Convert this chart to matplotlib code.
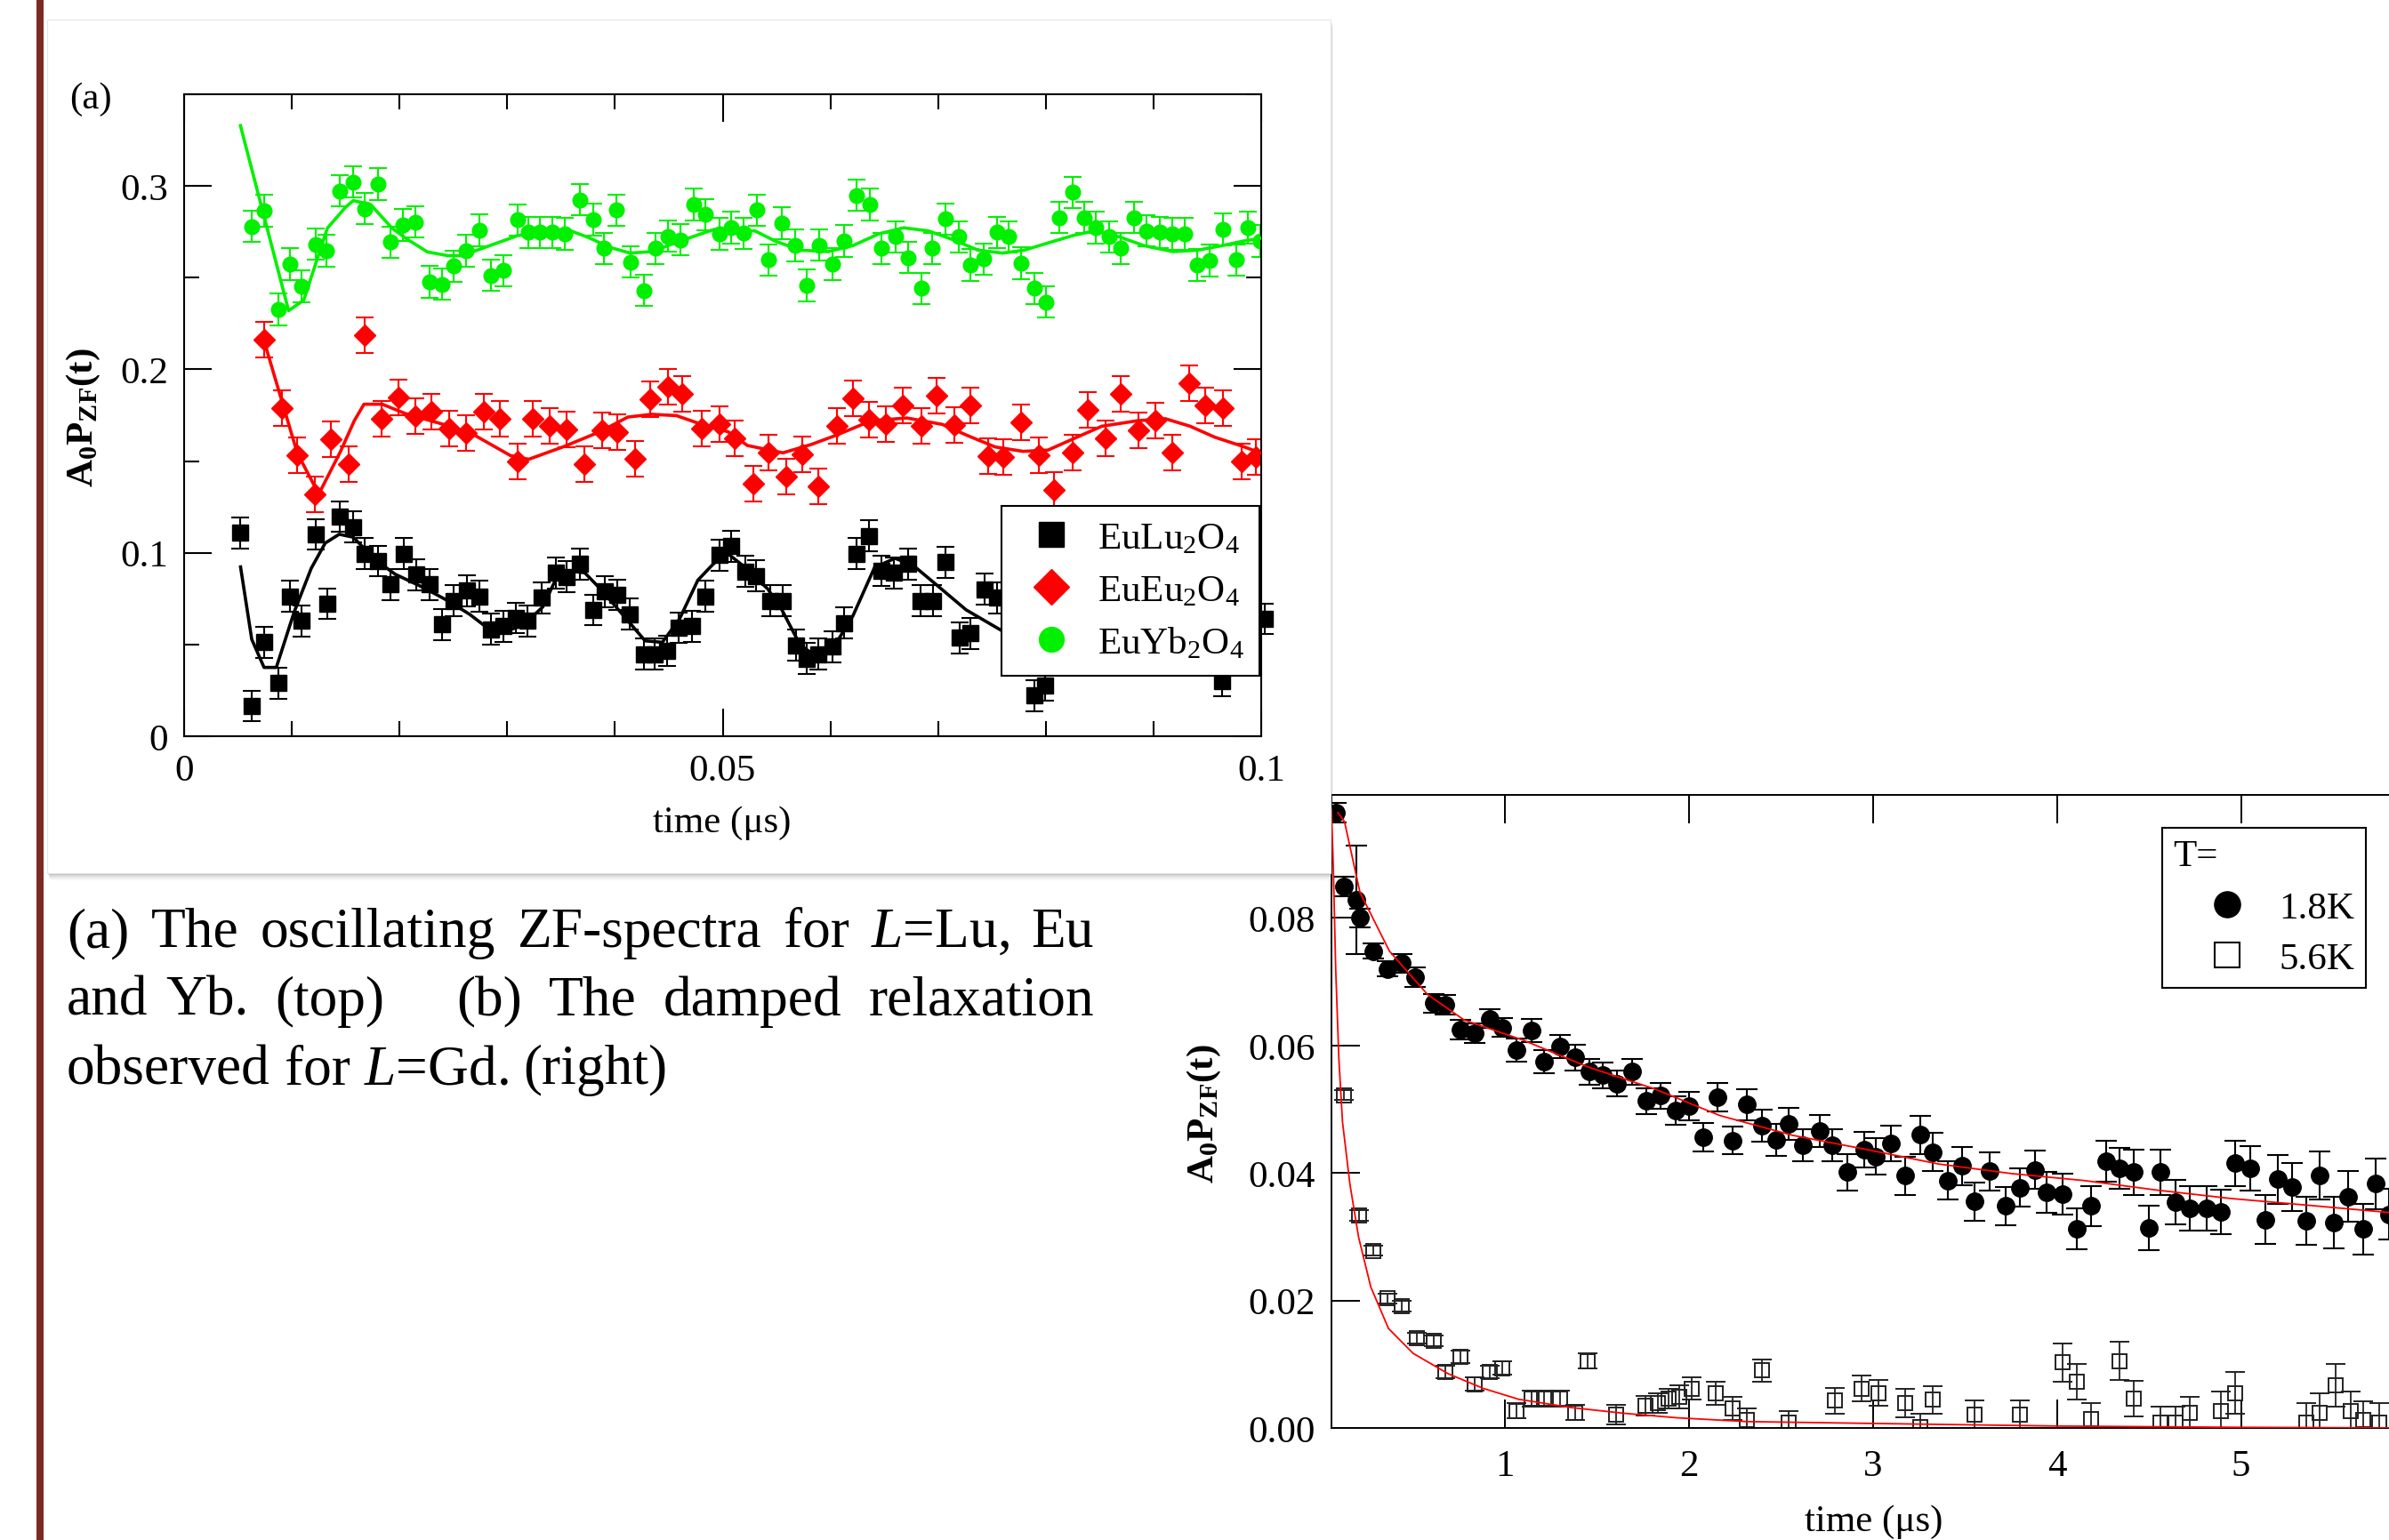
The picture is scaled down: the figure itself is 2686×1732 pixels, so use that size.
import matplotlib
matplotlib.use("Agg")
import matplotlib.pyplot as plt
from matplotlib.lines import Line2D
from matplotlib.patches import Rectangle
from matplotlib.ticker import FixedLocator, MultipleLocator, FuncFormatter

# ---------------- data: panel (a) ----------------
lu_t = [0.00524, 0.00628, 0.00742, 0.00873, 0.0098, 0.01092, 0.01222, 0.0133, 0.01444, 0.01568,
        0.01673, 0.01797, 0.01917, 0.02041, 0.02156, 0.02277, 0.02398, 0.02505, 0.02626, 0.02744,
        0.02848, 0.02963, 0.03077, 0.03191, 0.03322, 0.03453, 0.0355, 0.03671, 0.03795, 0.03909,
        0.04024, 0.04138, 0.04268, 0.04367, 0.04487, 0.04595, 0.04719, 0.0484, 0.0497, 0.05078,
        0.0521, 0.05308, 0.0544, 0.05555, 0.0568, 0.05779, 0.05884, 0.06016, 0.06131, 0.06246,
        0.06362, 0.0647, 0.06592, 0.06723, 0.06839, 0.06954, 0.07069, 0.07201, 0.073, 0.07431,
        0.07546, 0.07892, 0.0799, 0.09635, 0.1003]
lu_y = [0.1109, 0.0165, 0.0512, 0.0289, 0.0762, 0.0628, 0.1101, 0.0722, 0.1198, 0.1141,
        0.0996, 0.0955, 0.0827, 0.0996, 0.088, 0.0827, 0.0609, 0.0738, 0.0794, 0.0762,
        0.0584, 0.06, 0.0644, 0.0628, 0.0754, 0.0891, 0.087, 0.0939, 0.0689, 0.0789,
        0.077, 0.0665, 0.0447, 0.0447, 0.0466, 0.0592, 0.06, 0.0762, 0.0988, 0.1036,
        0.0899, 0.0875, 0.0738, 0.0738, 0.0496, 0.0423, 0.0447, 0.0488, 0.0617, 0.0996,
        0.1093, 0.0902, 0.0891, 0.0939, 0.0738, 0.0738, 0.0948, 0.0536, 0.056, 0.0802,
        0.0754, 0.0221, 0.0278, 0.0302, 0.064]
lu_err = 0.0084

eu_t = [0.00742, 0.00912, 0.01052, 0.01216, 0.01362, 0.01526, 0.01673, 0.01836, 0.01993, 0.02146,
        0.02293, 0.02457, 0.0262, 0.02783, 0.0293, 0.03093, 0.0324, 0.03397, 0.0355, 0.03714,
        0.03877, 0.04024, 0.04187, 0.04327, 0.0449, 0.04627, 0.04807, 0.0497, 0.05111, 0.05285,
        0.05424, 0.05588, 0.05736, 0.05891, 0.06059, 0.06207, 0.06362, 0.06516, 0.06674, 0.06846,
        0.06987, 0.07151, 0.073, 0.07464, 0.07606, 0.07771, 0.07935, 0.08073, 0.08247, 0.08386,
        0.08557, 0.08698, 0.08863, 0.09021, 0.09175, 0.09333, 0.09481, 0.09642, 0.09817, 0.09949]
eu_y = [0.2161, 0.1787, 0.1532, 0.1319, 0.1621, 0.1485, 0.2187, 0.173, 0.1847, 0.1747,
        0.1771, 0.1677, 0.1655, 0.1771, 0.173, 0.1496, 0.173, 0.1693, 0.1671, 0.1485,
        0.1669, 0.1659, 0.1512, 0.1839, 0.1903, 0.1868, 0.1677, 0.1703, 0.1622, 0.1375,
        0.1548, 0.1416, 0.1537, 0.1364, 0.1693, 0.1843, 0.1726, 0.1703, 0.1803, 0.1693,
        0.1855, 0.1698, 0.1803, 0.1529, 0.1521, 0.1709, 0.1532, 0.1343, 0.1548, 0.1779,
        0.1622, 0.1868, 0.1666, 0.1723, 0.1548, 0.1924, 0.1803, 0.1787, 0.1496, 0.1521]
eu_err = 0.0097

yb_t = [0.00628, 0.00742, 0.00873, 0.0098, 0.01092, 0.01222, 0.0132, 0.01444, 0.01568, 0.01673,
        0.01797, 0.01917, 0.02032, 0.02146, 0.02277, 0.02391, 0.02499, 0.0262, 0.02744, 0.02848,
        0.02963, 0.03093, 0.03197, 0.03305, 0.0342, 0.03534, 0.03671, 0.03795, 0.039, 0.04017,
        0.04145, 0.04268, 0.04373, 0.0449, 0.04611, 0.04729, 0.0484, 0.0497, 0.05078, 0.05193,
        0.05318, 0.05424, 0.05549, 0.0567, 0.05779, 0.059, 0.06016, 0.06131, 0.06246, 0.06368,
        0.06477, 0.06602, 0.06723, 0.06845, 0.06944, 0.07069, 0.07194, 0.073, 0.07424, 0.07546,
        0.07655, 0.0777, 0.07892, 0.08001, 0.08122, 0.08247, 0.08353, 0.08468, 0.0859, 0.08698,
        0.0882, 0.08938, 0.0906, 0.09175, 0.0929, 0.09405, 0.09521, 0.09642, 0.09768, 0.09873,
        0.09992]
yb_y = [0.278, 0.2865, 0.2328, 0.2573, 0.2452, 0.2683, 0.2646, 0.2973, 0.3022, 0.2877,
        0.301, 0.2694, 0.2788, 0.2804, 0.2476, 0.2465, 0.2562, 0.2646, 0.2759, 0.2513,
        0.2538, 0.2815, 0.2747, 0.2747, 0.2747, 0.2739, 0.2925, 0.2816, 0.2659, 0.2868,
        0.2586, 0.243, 0.2659, 0.2726, 0.2707, 0.29, 0.2844, 0.2739, 0.2772, 0.2742,
        0.2868, 0.2597, 0.2796, 0.2675, 0.2457, 0.2678, 0.2573, 0.2699, 0.2949, 0.29,
        0.2659, 0.2723, 0.261, 0.2441, 0.2659, 0.282, 0.2723, 0.257, 0.2602, 0.2747,
        0.2723, 0.2578, 0.2441, 0.2368, 0.2828, 0.2965, 0.2828, 0.2772, 0.2723, 0.2659,
        0.2828, 0.2755, 0.2747, 0.2739, 0.2739, 0.257, 0.2594, 0.2764, 0.2597, 0.2772,
        0.2699]
yb_err = 0.0086

lu_fit_t = [0.00524, 0.00628, 0.00742, 0.00856, 0.0102, 0.0118, 0.0131, 0.0144, 0.0157, 0.0177,
            0.0196, 0.0222, 0.0245, 0.0265, 0.0281, 0.0294, 0.0314, 0.0333, 0.0346, 0.0359,
            0.0372, 0.0388, 0.0408, 0.0428, 0.0444, 0.046, 0.0477, 0.049, 0.0503, 0.0522,
            0.0542, 0.0555, 0.0572, 0.0588, 0.0605, 0.0621, 0.0641, 0.066, 0.0677, 0.07,
            0.0726, 0.0759, 0.078]
lu_fit_y = [0.0923, 0.0528, 0.0375, 0.0375, 0.0674, 0.0915, 0.1053, 0.1101, 0.1085, 0.0964,
            0.0883, 0.0811, 0.0738, 0.0665, 0.0593, 0.0568, 0.06, 0.0705, 0.0867, 0.09,
            0.0891, 0.0794, 0.0657, 0.052, 0.0512, 0.064, 0.0851, 0.0931, 0.1004, 0.0915,
            0.0802, 0.0689, 0.0496, 0.0432, 0.0504, 0.0657, 0.092, 0.097, 0.0931, 0.0818,
            0.0689, 0.0576, 0.054]

eu_fit_t = [0.0074, 0.0105, 0.0125, 0.0145, 0.0158, 0.0167, 0.0184, 0.0205, 0.0245, 0.027,
            0.0303, 0.032, 0.0353, 0.0386, 0.0412, 0.0434, 0.0457, 0.0484, 0.0505, 0.0523,
            0.0556, 0.0582, 0.0605, 0.0638, 0.0671, 0.0704, 0.0727, 0.0753, 0.0779, 0.0802,
            0.0825, 0.0852, 0.0885, 0.0911, 0.0934, 0.0957, 0.0983, 0.0999]
eu_fit_y = [0.216, 0.1545, 0.132, 0.155, 0.172, 0.181, 0.181, 0.176, 0.1693, 0.164,
            0.153, 0.151, 0.158, 0.166, 0.174, 0.1755, 0.1748, 0.1693, 0.166, 0.1585,
            0.1545, 0.159, 0.164, 0.172, 0.1735, 0.170, 0.164, 0.1577, 0.1553, 0.156,
            0.162, 0.169, 0.172, 0.1731, 0.169, 0.163, 0.158, 0.1545]

yb_fit_t = [0.00523, 0.0097, 0.0111, 0.0133, 0.015, 0.0157, 0.0173, 0.0193, 0.0207, 0.0226,
            0.0245, 0.0258, 0.0284, 0.031, 0.0336, 0.0359, 0.0375, 0.0395, 0.0414, 0.0434,
            0.0453, 0.0472, 0.0492, 0.051, 0.053, 0.0549, 0.0572, 0.0598, 0.0621, 0.0645,
            0.0668, 0.0691, 0.0714, 0.0737, 0.076, 0.078, 0.0803, 0.0826, 0.0845, 0.0868,
            0.0891, 0.0918, 0.0941, 0.0964, 0.0983, 0.0999]
yb_fit_y = [0.3329, 0.232, 0.2377, 0.277, 0.2885, 0.292, 0.290, 0.277, 0.271, 0.264,
            0.262, 0.262, 0.2675, 0.273, 0.2747, 0.2755, 0.272, 0.2666, 0.2634, 0.2642,
            0.2683, 0.2723, 0.2763, 0.2755, 0.2755, 0.2699, 0.265, 0.2642, 0.2675, 0.2739,
            0.2772, 0.2755, 0.2707, 0.265, 0.2634, 0.265, 0.2691, 0.2731, 0.2755, 0.2723,
            0.2675, 0.2642, 0.265, 0.2675, 0.2699, 0.2715]

a_labels = [r"EuLu$_2$O$_4$", r"EuEu$_2$O$_4$", r"EuYb$_2$O$_4$"]

# ---------------- data: panel (b) ----------------
t18 = [0.081, 0.124, 0.19, 0.21, 0.282, 0.359, 0.439, 0.510, 0.609, 0.676,
       0.756, 0.835, 0.914, 0.982, 1.061, 1.145, 1.212, 1.299, 1.379, 1.458,
       1.530, 1.609, 1.688, 1.767, 1.846, 1.926, 1.998, 2.077, 2.156, 2.236,
       2.315, 2.394, 2.473, 2.541, 2.620, 2.711, 2.779, 2.858, 2.950, 3.017,
       3.096, 3.176, 3.255, 3.326, 3.406, 3.485, 3.552, 3.632, 3.723, 3.798,
       3.878, 3.941, 4.029, 4.108, 4.187, 4.266, 4.338, 4.417, 4.497, 4.564,
       4.643, 4.723, 4.814, 4.893, 4.969, 5.052, 5.131, 5.199, 5.278, 5.357,
       5.429, 5.504, 5.583, 5.663, 5.734, 5.804]
y18 = [0.0965, 0.0849, 0.0828, 0.080, 0.0748, 0.0720, 0.0729, 0.0707, 0.0666, 0.0664,
       0.0625, 0.0619, 0.0642, 0.0628, 0.0593, 0.0623, 0.0575, 0.0598, 0.0581, 0.0559,
       0.0553, 0.054, 0.0559, 0.0513, 0.0521, 0.0498, 0.0505, 0.0456, 0.0519, 0.0451,
       0.0507, 0.0474, 0.0452, 0.0477, 0.0443, 0.0466, 0.0443, 0.0401, 0.0437, 0.0426,
       0.0446, 0.0396, 0.046, 0.0433, 0.0388, 0.0411, 0.0355, 0.0403, 0.0348, 0.0377,
       0.0405, 0.037, 0.0367, 0.0312, 0.0348, 0.0418, 0.0407, 0.0401, 0.0314, 0.0401,
       0.0354, 0.0345, 0.0345, 0.0339, 0.0415, 0.0407, 0.0327, 0.039, 0.0378, 0.0325,
       0.0396, 0.0322, 0.0363, 0.0312, 0.0383, 0.0335]
e18 = [0.0015, 0.0015, 0.0085, 0.0015, 0.0012, 0.0012, 0.0015, 0.0015, 0.0015, 0.0015,
       0.0015, 0.0015, 0.0015, 0.0015, 0.0018, 0.0018, 0.0018, 0.0018, 0.002, 0.002,
       0.002, 0.002, 0.002, 0.002, 0.002, 0.0022, 0.0022, 0.0022, 0.0022, 0.0022,
       0.0025, 0.0025, 0.0025, 0.0025, 0.0025, 0.0025, 0.0025, 0.0028, 0.0028, 0.0028,
       0.0028, 0.003, 0.003, 0.003, 0.003, 0.003, 0.003, 0.003, 0.003, 0.003,
       0.003, 0.0032, 0.0032, 0.0032, 0.0032, 0.0032, 0.0032, 0.0035, 0.0035, 0.0035,
       0.0035, 0.0035, 0.0035, 0.0035, 0.0035, 0.0035, 0.0038, 0.0038, 0.0038, 0.0038,
       0.0038, 0.004, 0.004, 0.004, 0.004, 0.004]

t56 = [0.124, 0.203, 0.282, 0.359, 0.439, 0.518, 0.609, 0.676, 0.756, 0.835,
       0.914, 0.982, 1.061, 1.145, 1.212, 1.299, 1.379, 1.450, 1.601, 1.760,
       1.830, 1.886, 1.946, 2.013, 2.144, 2.236, 2.315, 2.394, 2.541, 2.791,
       2.938, 3.028, 3.176, 3.255, 3.323, 3.552, 3.798, 4.029, 4.108, 4.187,
       4.338, 4.417, 4.564, 4.643, 4.723, 4.893, 4.969, 5.357, 5.429, 5.515,
       5.595, 5.663, 5.752]
y56 = [0.0522, 0.0333, 0.0278, 0.0203, 0.0191, 0.0141, 0.0137, 0.0088, 0.0112, 0.0069,
       0.0088, 0.0094, 0.0027, 0.0046, 0.0046, 0.0046, 0.0024, 0.0105, 0.0021, 0.0035,
       0.0039, 0.0046, 0.0049, 0.0062, 0.0054, 0.0031, 0.0012, 0.009, 0.0009, 0.0043,
       0.0062, 0.0055, 0.0039, 0.0001, 0.0044, 0.0021, 0.0021, 0.0103, 0.0073, 0.0014,
       0.0105, 0.0046, 0.0009, 0.0009, 0.0024, 0.0027, 0.0055, 0.0009, 0.0024, 0.0067,
       0.0027, 0.0012, 0.0009]
e56 = [0.0008, 0.0008, 0.0008, 0.0008, 0.0008, 0.0008, 0.0008, 0.001, 0.001, 0.001,
       0.001, 0.001, 0.0012, 0.0012, 0.0012, 0.0012, 0.0012, 0.0012, 0.0015, 0.0015,
       0.0015, 0.0015, 0.0018, 0.0018, 0.0018, 0.0018, 0.0018, 0.0018, 0.0018, 0.002,
       0.002, 0.002, 0.0022, 0.0022, 0.0022, 0.0022, 0.0022, 0.003, 0.0028, 0.0025,
       0.003, 0.0028, 0.0025, 0.0025, 0.0025, 0.003, 0.0033, 0.003, 0.003, 0.0033,
       0.003, 0.003, 0.003]

fit18_t = [0.09, 0.126, 0.21, 0.37, 0.577, 0.776, 1.1, 1.452, 1.81, 2.167,
           2.563, 2.96, 3.357, 3.753, 4.15, 4.546, 4.943, 5.34, 5.804, 5.95]
fit18_y = [0.0965, 0.0951, 0.084, 0.0748, 0.068, 0.064, 0.0608, 0.0566, 0.0532, 0.049,
           0.0459, 0.0437, 0.0414, 0.0399, 0.0388, 0.0373, 0.036, 0.035, 0.0338, 0.0335]
fit56_t = [0.055, 0.065, 0.078, 0.095, 0.115, 0.155, 0.2026, 0.269, 0.365, 0.499,
           0.69, 0.881, 1.073, 1.359, 1.646, 1.933, 2.315, 3.02, 4.0, 5.0, 5.95]
fit56_y = [0.097, 0.088, 0.072, 0.058, 0.048, 0.0383, 0.0299, 0.0221, 0.0156, 0.0117,
           0.0085, 0.0062, 0.0045, 0.0032, 0.0023, 0.0016, 0.001, 0.0007, 0.0003, 0.0001, 0.0]

b_xticks = [1, 2, 3, 4, 5]
b_yticks = [0.0, 0.02, 0.04, 0.06, 0.08]
b_labels = ["1.8K", "5.6K"]

caption_lines = [
    ["(a)", "The", "oscillating", "ZF-spectra", "for", r"$\mathit{L}$=Lu,", "Eu"],
    ["and", "Yb.", "(top)", "(b)", "The", "damped", "relaxation"],
    ["observed", "for", r"$\mathit{L}$=Gd.", "(right)"],
]

# ---------------- style ----------------
SERIF = "Liberation Serif"
plt.rcParams["font.family"] = [SERIF, "DejaVu Serif"]
plt.rcParams["mathtext.fontset"] = "custom"
plt.rcParams["mathtext.rm"] = SERIF
plt.rcParams["mathtext.it"] = SERIF + ":italic"
plt.rcParams["mathtext.bf"] = SERIF + ":bold"

W, H = 2686, 1733
GREEN = "#00f000"
RED = "#ff0000"
FS = 31

fig = plt.figure(figsize=(W / 100, H / 100), dpi=100)
fig.patch.set_facecolor("white")


def fx(px):
    return px / W


def fy(py):
    return 1 - py / H


def axes_px(l, t, r, b):
    return fig.add_axes([fx(l), fy(b), (r - l) / W, (b - t) / H])


# ---------------- panel (b) (behind the card) ----------------
ax_b = axes_px(1497, 895, 2716, 1607)
ax_b.set_zorder(0)
ax_b.errorbar(t18, y18, yerr=e18, fmt="o", color="black", ms=14, elinewidth=1.5,
              capsize=8.5, capthick=1.5, zorder=2)
ax_b.errorbar(t56, y56, yerr=e56, fmt="s", color="#222222", mfc="none", mec="#222222",
              ms=11.5, mew=1.4, elinewidth=1.3, capsize=8, capthick=1.3, zorder=2)
ax_b.plot(fit18_t, fit18_y, color=RED, lw=1.3, zorder=3)
ax_b.plot(fit56_t, fit56_y, color=RED, lw=1.3, zorder=3)
ax_b.set_xlim(0.055, 5.95)
ax_b.set_ylim(0, 0.0993)
ax_b.xaxis.set_major_locator(FixedLocator(b_xticks))
ax_b.xaxis.set_major_formatter(FuncFormatter(lambda v, p: "%d" % round(v)))
ax_b.yaxis.set_major_locator(FixedLocator(b_yticks))
ax_b.yaxis.set_major_formatter(FuncFormatter(lambda v, p: "%.2f" % v))
ax_b.tick_params(which="major", direction="in", top=True, right=False, length=23,
                 width=1.4, labelsize=FS)
ax_b.tick_params(axis="x", pad=17)
ax_b.tick_params(axis="y", pad=13)
for s in ax_b.spines.values():
    s.set_linewidth(1.4)
hb = [Line2D([], [], ls="none", marker="o", ms=21, color="black"),
      Line2D([], [], ls="none", marker="s", ms=20, mfc="white", mec="black", mew=1.5)]
leg_b = ax_b.legend(hb, b_labels, title="T=", loc="upper right",
                    bbox_to_anchor=(fx(2660), fy(932)), bbox_transform=fig.transFigure,
                    borderaxespad=0, fontsize=FS, title_fontsize=FS, alignment="left",
                    frameon=True, fancybox=False, framealpha=1, edgecolor="black",
                    handlelength=2.8, handletextpad=-0.05, borderpad=0.3,
                    labelspacing=0.42)
leg_b.get_frame().set_linewidth(1.5)
leg_b._legend_box.sep = 14

# ---------------- card for panel (a) ----------------
for off, al in [(8, 0.05), (6, 0.08), (4, 0.12), (2, 0.18)]:
    fig.add_artist(Rectangle((fx(53 + off * 0.4), fy(983 + off)), (1496 - 53) / W,
                             (983 - 23) / H, transform=fig.transFigure,
                             facecolor="#606060", edgecolor="none", alpha=al, zorder=1))
fig.add_artist(Rectangle((fx(53), fy(983)), (1496 - 53) / W, (983 - 23) / H,
                         transform=fig.transFigure, facecolor="white",
                         edgecolor="#e6e6e6", lw=0.8, zorder=1.1))

# ---------------- panel (a) ----------------
ax_a = axes_px(207, 107, 1418, 829)
ax_a.set_zorder(2)
ax_a.errorbar(lu_t, lu_y, yerr=lu_err, fmt="s", color="black", ms=13.5, elinewidth=1.5,
              capsize=7.5, capthick=1.5, zorder=2, clip_on=False)
ax_a.plot(lu_fit_t, lu_fit_y, color="black", lw=2.6, zorder=3)
ax_a.errorbar(eu_t, eu_y, yerr=eu_err, fmt="D", color=RED, ms=12, elinewidth=1.5,
              capsize=7.5, capthick=1.5, zorder=2)
ax_a.plot(eu_fit_t, eu_fit_y, color=RED, lw=2.6, zorder=3)
ax_a.errorbar(yb_t, yb_y, yerr=yb_err, fmt="o", color=GREEN, ms=12, elinewidth=1.5,
              capsize=7.5, capthick=1.5, zorder=2)
ax_a.plot(yb_fit_t, yb_fit_y, color=GREEN, lw=2.6, zorder=3)
ax_a.set_xlim(0, 0.1)
ax_a.set_ylim(0, 0.35)
ax_a.xaxis.set_major_locator(FixedLocator([0, 0.05, 0.1]))
ax_a.xaxis.set_minor_locator(MultipleLocator(0.01))
ax_a.yaxis.set_major_locator(FixedLocator([0, 0.1, 0.2, 0.3]))
ax_a.yaxis.set_minor_locator(MultipleLocator(0.05))
fmt_g = FuncFormatter(lambda v, p: "%g" % round(v, 4))
ax_a.xaxis.set_major_formatter(fmt_g)
ax_a.yaxis.set_major_formatter(fmt_g)
ax_a.tick_params(which="both", direction="in", top=True, right=True, width=1.5,
                 labelsize=FS)
ax_a.tick_params(which="major", length=22)
ax_a.tick_params(which="minor", length=12)
ax_a.tick_params(axis="x", pad=14)
ax_a.tick_params(axis="y", pad=13)
for s in ax_a.spines.values():
    s.set_linewidth(1.5)
ha_ = [Line2D([], [], ls="none", marker="s", ms=20, color="black"),
       Line2D([], [], ls="none", marker="D", ms=20, color=RED),
       Line2D([], [], ls="none", marker="o", ms=20, color=GREEN)]
leg_a = ax_a.legend(ha_, a_labels, loc="upper right",
                    bbox_to_anchor=(fx(1416), fy(570)), bbox_transform=fig.transFigure,
                    borderaxespad=0, fontsize=FS, frameon=True, fancybox=False,
                    framealpha=1, edgecolor="black", handlelength=1.8,
                    handletextpad=0.3, borderpad=0.4, labelspacing=0.45)
leg_a.get_frame().set_linewidth(1.5)
leg_a.set_zorder(10)

# ---------------- labels ----------------
fig.text(fx(102), fy(112), "(a)", fontsize=FS, ha="center", va="center", zorder=3)
fig.text(fx(94), fy(470), r"A$_{\mathbf{0}}$P$_{\mathbf{ZF}}$(t)", rotation=90,
         fontsize=FS, fontweight="bold", ha="center", va="center", zorder=3)
fig.text(fx(812), fy(926), "time (\u03bcs)", fontsize=FS, ha="center", va="center",
         zorder=3)
fig.text(fx(1354), fy(1253), r"A$_{\mathbf{0}}$P$_{\mathbf{ZF}}$(t)", rotation=90,
         fontsize=FS, fontweight="bold", ha="center", va="center", zorder=3)
fig.text(fx(2107), fy(1712), "time (\u03bcs)", fontsize=FS, ha="center", va="center",
         zorder=3)

# dark red page rule
fig.add_artist(Rectangle((fx(41), 0), 8 / W, 1, transform=fig.transFigure,
                         facecolor="#7b2a24", edgecolor="none", zorder=5))

# ---------------- caption (justified) ----------------
renderer = fig.canvas.get_renderer()
probe = fig.text(0, 0, " ".join(caption_lines[2]), fontsize=40)
cap_fs = 40 * (751 - 75) / probe.get_window_extent(renderer).width
probe.remove()
p1 = fig.text(0, 0, "a a", fontsize=cap_fs)
p2 = fig.text(0, 0, "aa", fontsize=cap_fs)
space_w = p1.get_window_extent(renderer).width - p2.get_window_extent(renderer).width
p1.remove()
p2.remove()


def place_line(words, base_y, x0, x1=None, weights=None):
    objs = [fig.text(0, fy(base_y), w, fontsize=cap_fs, ha="left", va="baseline")
            for w in words]
    widths = [o.get_window_extent(renderer).width for o in objs]
    n = len(words) - 1
    if weights is None:
        weights = [1.0] * n
    if x1 is None:
        unit = space_w
    else:
        unit = (x1 - x0 - sum(widths)) / sum(weights)
    x = x0
    for i, (o, w) in enumerate(zip(objs, widths)):
        o.set_x(fx(x))
        x += w + (unit * weights[i] if i < n else 0)


place_line(caption_lines[0], 1065, 75, 1230)
place_line(caption_lines[1], 1142, 75, 1230, weights=[0.65, 1, 2.7, 1, 1, 1])
place_line(caption_lines[2], 1219, 75)

fig.savefig("out.png", dpi=100, facecolor="white")
